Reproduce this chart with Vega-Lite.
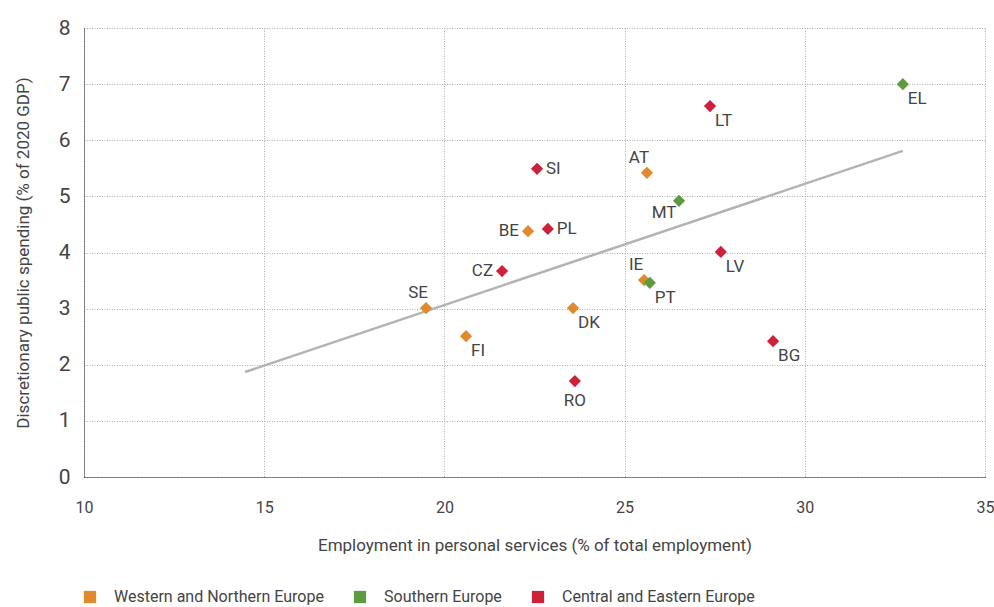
{
  "$schema": "https://vega.github.io/schema/vega-lite/v6.json",
  "width": 901,
  "height": 449,
  "autosize": "none",
  "padding": {"left": 84, "top": 28, "right": 9, "bottom": 130},
  "background": "white",
  "config": {
    "font": "Roboto",
    "view": {"stroke": null},
    "axis": {
      "labelColor": "#444",
      "titleColor": "#444",
      "labelFont": "Roboto",
      "titleFont": "Roboto",
      "labelFontSize": 17,
      "titleFontSize": 17,
      "titleFontWeight": "normal",
      "ticks": false,
      "gridColor": "#adadad",
      "gridDash": [1, 1.5],
      "gridWidth": 1,
      "domainColor": "#222",
      "domainDash": [1, 1],
      "domainWidth": 1
    },
    "legend": {"labelFont": "Roboto"},
    "text": {"font": "Roboto"}
  },
  "datasets": {
    "pts": [
      {"country": "EL", "region": "Southern Europe", "x": 32.72, "y": 7.0},
      {"country": "LT", "region": "Central and Eastern Europe", "x": 27.37, "y": 6.61},
      {"country": "AT", "region": "Western and Northern Europe", "x": 25.62, "y": 5.42},
      {"country": "MT", "region": "Southern Europe", "x": 26.51, "y": 4.92},
      {"country": "SI", "region": "Central and Eastern Europe", "x": 22.57, "y": 5.49},
      {"country": "PL", "region": "Central and Eastern Europe", "x": 22.87, "y": 4.42},
      {"country": "BE", "region": "Western and Northern Europe", "x": 22.32, "y": 4.38},
      {"country": "CZ", "region": "Central and Eastern Europe", "x": 21.6, "y": 3.67},
      {"country": "LV", "region": "Central and Eastern Europe", "x": 27.67, "y": 4.01},
      {"country": "IE", "region": "Western and Northern Europe", "x": 25.54, "y": 3.51},
      {"country": "PT", "region": "Southern Europe", "x": 25.7, "y": 3.46},
      {"country": "SE", "region": "Western and Northern Europe", "x": 19.49, "y": 3.01},
      {"country": "DK", "region": "Western and Northern Europe", "x": 23.57, "y": 3.01},
      {"country": "FI", "region": "Western and Northern Europe", "x": 20.6, "y": 2.51},
      {"country": "BG", "region": "Central and Eastern Europe", "x": 29.12, "y": 2.42},
      {"country": "RO", "region": "Central and Eastern Europe", "x": 23.62, "y": 1.71}
    ],
    "trend": [
      {"x": 14.47, "y": 1.87},
      {"x": 32.72, "y": 5.81}
    ]
  },
  "encoding": {
    "x": {
      "field": "x", "type": "quantitative",
      "scale": {"domain": [10, 35], "nice": false, "zero": false},
      "axis": {"values": [10, 15, 20, 25, 30, 35], "labelFlush": false, "labelBound": false, "labelPadding": 22, "titlePadding": 22, "labelFontSize": 16, "title": "Employment in personal services (% of total employment)"}
    },
    "y": {
      "field": "y", "type": "quantitative",
      "scale": {"domain": [0, 8], "nice": false},
      "axis": {"values": [0, 1, 2, 3, 4, 5, 6, 7, 8], "labelPadding": 14, "titlePadding": 26, "labelFontSize": 21, "title": "Discretionary public spending (% of 2020 GDP)"}
    }
  },
  "layer": [
    {
      "data": {"name": "trend"},
      "mark": {"type": "line", "color": "#b3b3b3", "strokeWidth": 2.5},
      "encoding": {}
    },
    {
      "data": {"name": "pts"},
      "mark": {"type": "point", "shape": "diamond", "filled": true, "size": 150, "opacity": 1},
      "encoding": {
        "color": {
          "field": "region", "type": "nominal",
          "scale": {
            "domain": ["Western and Northern Europe", "Southern Europe", "Central and Eastern Europe"],
            "range": ["#DF8A2C", "#5E9A41", "#CC2139"]
          },
          "legend": {
            "title": null,
            "orient": "none",
            "direction": "horizontal",
            "legendX": -2,
            "legendY": 561,
            "symbolType": "square",
            "symbolSize": 150,
            "symbolOpacity": 1,
            "symbolStrokeWidth": 0,
            "labelFontSize": 16,
            "labelLimit": 0,
            "labelColor": "#444",
            "labelOffset": 16,
            "columnPadding": 28
          }
        }
      }
    },
    {
      "data": {"name": "pts"},
      "transform": [{"filter": {"field": "country", "oneOf": ["SI", "PL"]}}],
      "mark": {"type": "text", "align": "left", "baseline": "middle", "dx": 9, "fontSize": 17, "color": "#444"},
      "encoding": {"text": {"field": "country"}}
    },
    {
      "data": {"name": "pts"},
      "transform": [{"filter": {"field": "country", "oneOf": ["BE", "CZ"]}}],
      "mark": {"type": "text", "align": "right", "baseline": "middle", "dx": -9, "fontSize": 17, "color": "#444"},
      "encoding": {"text": {"field": "country"}}
    },
    {
      "data": {"name": "pts"},
      "transform": [{"filter": {"field": "country", "oneOf": ["EL", "LT", "LV", "PT", "DK", "FI", "BG"]}}],
      "mark": {"type": "text", "align": "left", "baseline": "middle", "dx": 5, "dy": 15, "fontSize": 17, "color": "#444"},
      "encoding": {"text": {"field": "country"}}
    },
    {
      "data": {"name": "pts"},
      "transform": [{"filter": {"field": "country", "oneOf": ["AT", "IE", "SE"]}}],
      "mark": {"type": "text", "align": "center", "baseline": "middle", "dx": -8, "dy": -15, "fontSize": 17, "color": "#444"},
      "encoding": {"text": {"field": "country"}}
    },
    {
      "data": {"name": "pts"},
      "transform": [{"filter": {"field": "country", "oneOf": ["MT"]}}],
      "mark": {"type": "text", "align": "center", "baseline": "middle", "dx": -15, "dy": 12, "fontSize": 17, "color": "#444"},
      "encoding": {"text": {"field": "country"}}
    },
    {
      "data": {"name": "pts"},
      "transform": [{"filter": {"field": "country", "oneOf": ["RO"]}}],
      "mark": {"type": "text", "align": "center", "baseline": "middle", "dy": 20, "fontSize": 17, "color": "#444"},
      "encoding": {"text": {"field": "country"}}
    }
  ]
}
